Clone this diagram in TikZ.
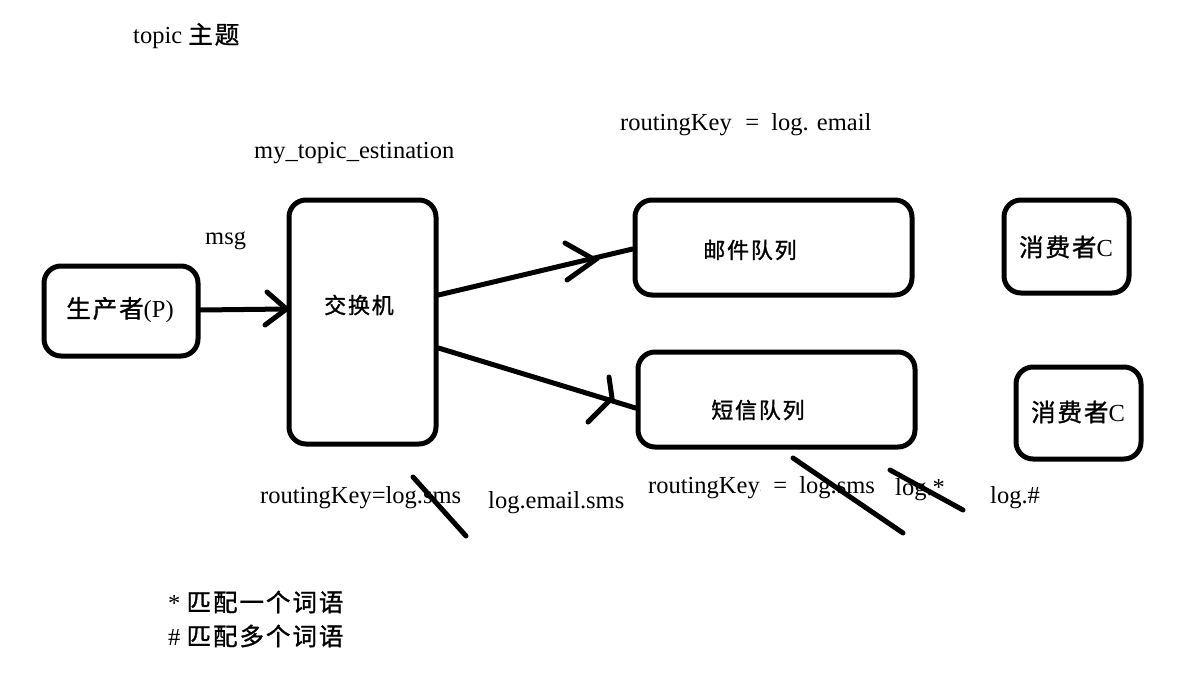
\documentclass[tikz,border=0pt]{standalone}
\usepackage{fontspec}
\setmainfont{Liberation Serif}
\newfontfamily\cjk[FakeBold=1.2, LetterSpace=8]{Noto Sans CJK SC}
\begin{document}
\begin{tikzpicture}[x=1pt,y=-1pt,
  box/.style={draw, line width=5pt, rounded corners=17pt, inner sep=0pt},
  txt/.style={inner sep=0pt, font=\fontsize{24.5}{28}\selectfont},
  ctxt/.style={inner sep=0pt, font=\fontsize{22}{26}\selectfont\cjk},
  wire/.style={line width=5pt, line cap=round},
  strike/.style={line width=5pt, line cap=round}]
\useasboundingbox[fill=white] (0,0) rectangle (1186,674);

% boxes
\node[box, minimum width=154pt, minimum height=90pt] (p) at (121,311) {};
\node[box, minimum width=147pt, minimum height=244pt] (ex) at (362.5,322) {};
\node[box, minimum width=277pt, minimum height=95pt] (eq) at (773.5,247.5) {};
\node[box, minimum width=277pt, minimum height=95pt] (sq) at (776.5,399.5) {};
\node[box, minimum width=125pt, minimum height=93pt] (c1) at (1066.5,246.5) {};
\node[box, minimum width=125pt, minimum height=92pt] (c2) at (1078.5,413) {};

% box texts
\node[txt] (pt) at (120,310) {{\cjk 生产者}(P)};
\node[ctxt] (ext) at (359,305) {交换机};
\node[ctxt] (eqt) at (750,250) {邮件队列};
\node[ctxt] (sqt) at (758,410) {短信队列};
\node[txt] (c1t) at (1066,247) {{\cjk 消费者}C};
\node[txt] (c2t) at (1078,412) {{\cjk 消费者}C};

% free texts
\node[txt, anchor=west] (title) at (133,36) {topic {\cjk 主题}};
\node[txt, anchor=west] (exname) at (254,153) {my\_topic\_estination};
\node[txt, anchor=west] (rk1) at (620,125) {routingKey\raisebox{2pt}{\tiny .}\ \ =\ \ log. email};
\node[txt, anchor=west] (msg) at (205,241) {msg};
\node[txt, anchor=west] (rk2) at (260,498) {routingKey=log.sms};
\node[txt, anchor=west] (rk3) at (488,503) {log.email.sms};
\node[txt, anchor=west] (rk4) at (648,488) {routingKey\raisebox{2pt}{\tiny .}\ \ =\ \ log.sms};
\node[txt, anchor=west] (rk5) at (895,490) {log.*};
\node[txt, anchor=west] (rk6) at (990,498) {log.\#};
\node[txt, anchor=west] (n1) at (168,602) {* {\cjk 匹配一个词语}};
\node[txt, anchor=west] (n2) at (168,636) {\# {\cjk 匹配多个词语}};

% connectors
\draw[wire] (p.east |- 0,310) -- (ex.west |- 0,309) coordinate (t1);
\draw[wire] (267,292) -- (t1) -- (265,325);
\draw[wire] (ex.east |- 0,295) -- (eq.west |- 0,249);
\draw[wire] (565,243) -- (595,260) -- (567,280);
\draw[wire] (ex.east |- 0,348) -- (sq.west |- 0,408);
\draw[wire] (609,377) -- (612,398) -- (588,422);

% strike-throughs
\draw[strike] (413,477) -- (466,536);
\draw[strike] (793,458) -- (903,533);
\draw[strike] (890,470) -- (963,510);
\end{tikzpicture}
\end{document}
